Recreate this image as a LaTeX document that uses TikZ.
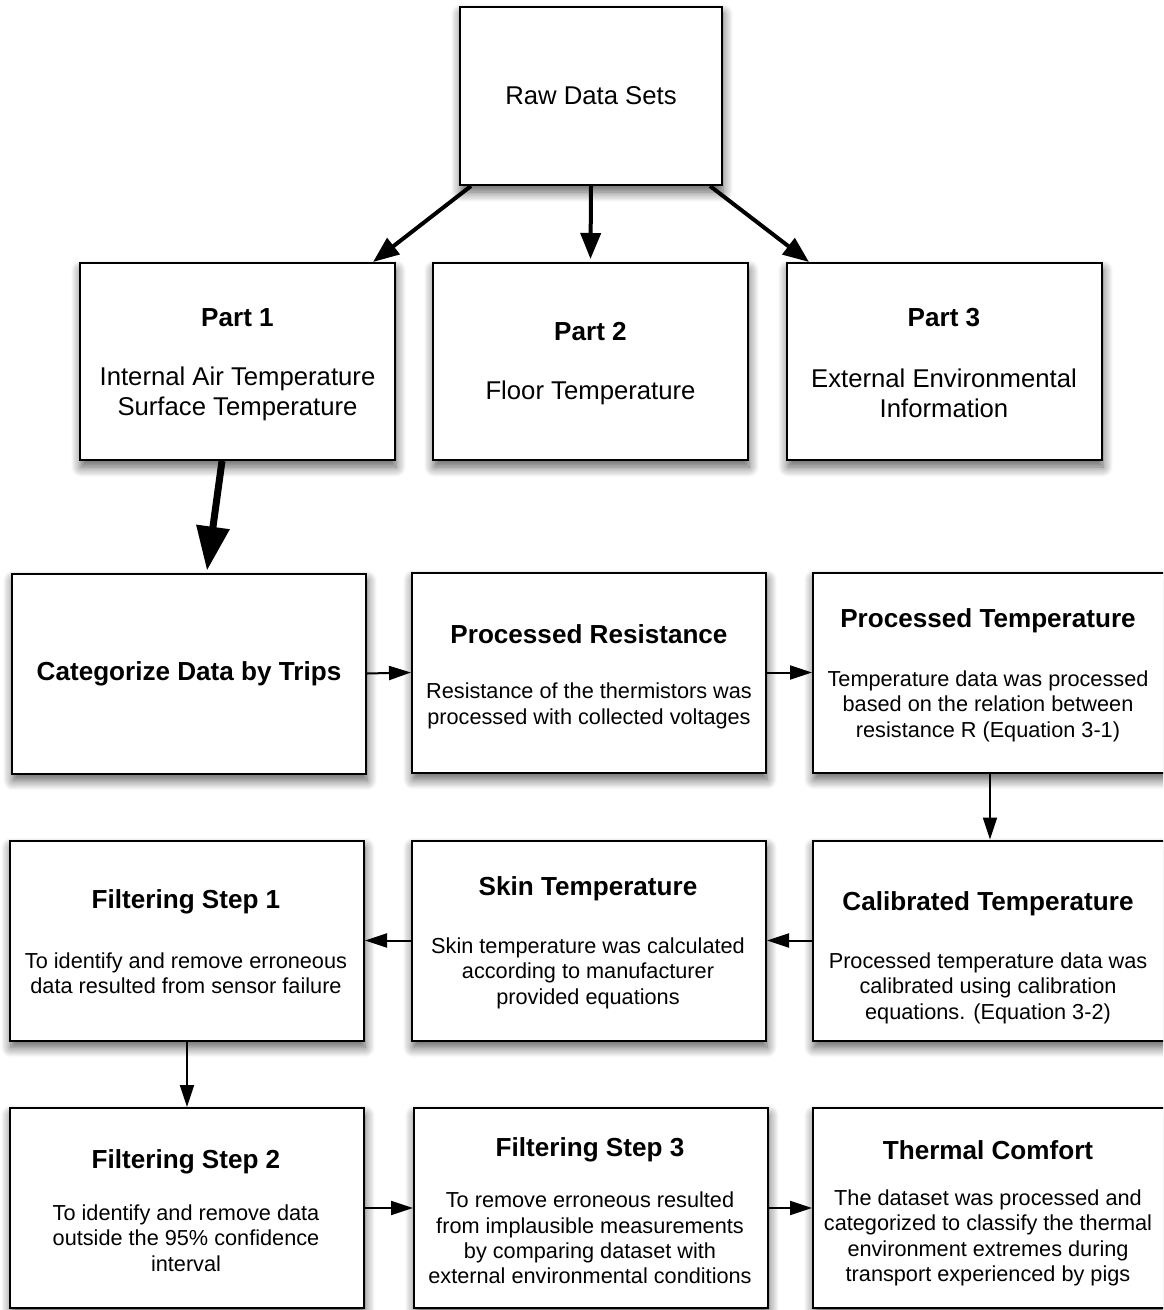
\documentclass[tikz,border=0pt]{standalone}
\usepackage{fontspec}
\setmainfont{Liberation Sans}
\usetikzlibrary{arrows.meta,shadows.blur}
\tikzset{
	box/.style={draw, line width=1pt, fill=white, inner sep=0pt,
		blur shadow={shadow xshift=0.5pt, shadow yshift=-3.5pt, shadow blur radius=5pt, shadow blur steps=10, shadow opacity=65}},
	ttl/.style={font=\fontsize{13.05}{15}\selectfont\bfseries, inner sep=0pt},
	big/.style={font=\fontsize{12.85}{15}\selectfont, align=center, inner sep=0pt},
	txt/.style={font=\fontsize{10.85}{12.7}\selectfont, align=center, inner sep=0pt},
	part/.style={box, minimum width=157.5pt, minimum height=98.5pt},
	stage/.style={box, minimum width=177pt, minimum height=100pt},
	fat arrow/.style={line width=2pt, -{Triangle[length=13pt,width=10pt]}},
	thin arrow/.style={line width=1pt, -{Triangle[length=11pt,width=7pt]}},
}
\begin{document}
\begin{tikzpicture}[x=0.5pt, y=-0.5pt, line join=miter]
	\useasboundingbox (0,0) rectangle (1163,1310);
	\clip (0,0) rectangle (1163,1310);
	
	% top
	\node[box, big, minimum width=131pt, minimum height=89pt] (raw) at (591,96) {Raw Data Sets};
	
	\node[part] (p1) at (237.5,361.5) {};
	\node[part] (p2) at (590.5,361.5) {};
	\node[part] (p3) at (944.5,361.5) {};
	\node[ttl] (p1-t) at (237.5,318) {Part 1};
	\node[big] (p1-b) at (237.5,394) {Internal Air Temperature\\Surface Temperature};
	\node[ttl] (p2-t) at (590.5,332) {Part 2};
	\node[big] (p2-b) at (590.5,393) {Floor Temperature};
	\node[ttl] (p3-t) at (944,318) {Part 3};
	\node[big] (p3-b) at (944,393) {External Environmental\\Information};
	
	% processing rows
	\node[stage, ttl, inner sep=0pt] (cat) at (189,673.5) {\raisebox{-1pt}{Categorize Data by Trips}};
	\node[stage] (pres) at (589,672.5) {};
	\node[stage] (ptemp) at (990,672.5) {};
	\node[stage] (filt1) at (187,940.5) {};
	\node[stage] (skin) at (589,940.5) {};
	\node[stage] (calib) at (990,940.5) {};
	\node[stage] (filt2) at (187,1208) {};
	\node[stage] (filt3) at (591,1208) {};
	\node[stage] (comfort) at (990,1208) {};
	
	\node[ttl] (pres-t) at (589,634) {Processed Resistance};
	\node[txt] (pres-b) at (589,706) {Resistance of the thermistors was\\processed with collected voltages};
	\node[ttl] (ptemp-t) at (988,621) {Processed Temperature};
	\node[txt] (ptemp-b) at (988,706) {Temperature data was processed\\based on the relation between\\resistance R (Equation 3-1)};
	\node[ttl] (filt1-t) at (186,902) {Filtering Step 1};
	\node[txt] (filt1-b) at (186,973) {To identify and remove erroneous\\data resulted from sensor failure};
	\node[ttl] (skin-t) at (588,889) {Skin Temperature};
	\node[txt] (skin-b) at (588,973) {Skin temperature was calculated\\according to manufacturer\\provided equations};
	\node[ttl] (calib-t) at (988,904) {Calibrated Temperature};
	\node[txt] (calib-b) at (988,988) {Processed temperature data was\\calibrated using calibration\\equations. (Equation 3-2)};
	\node[ttl] (filt2-t) at (186,1162) {Filtering Step 2};
	\node[txt] (filt2-b) at (186,1238) {To identify and remove data\\outside the 95\% confidence\\interval};
	\node[ttl] (filt3-t) at (590,1150) {Filtering Step 3};
	\node[txt] (filt3-b) at (590,1238) {To remove erroneous resulted\\from implausible measurements\\by comparing dataset with\\external environmental conditions};
	\node[ttl] (comfort-t) at (988,1150) {Thermal Comfort};
	\node[txt] (comfort-b) at (988,1238) {The dataset was processed and\\categorized to classify the thermal\\environment extremes during\\transport experienced by pigs};
	
	% arrows
	\draw[fat arrow] ([xshift=6pt]raw.south west) -- ([xshift=-11.5pt]p1.north east);
	\draw[fat arrow] (raw.south) -- ([yshift=1.5pt]p2.north);
	\draw[fat arrow] ([xshift=-6.5pt]raw.south east) -- ([xshift=11.5pt]p3.north west);
	\draw[line width=3.5pt, -{Triangle[length=22pt,width=16pt]}] ([xshift=-7.75pt]p1.south) -- ([xshift=9pt,yshift=1pt]cat.north);
	\foreach \a/\b in {cat.east/pres.west, pres.east/ptemp.west, ptemp.south/calib.north, calib.west/skin.east, skin.west/filt1.east, filt1.south/filt2.north, filt2.east/filt3.west, filt3.east/comfort.west}
		\draw[thin arrow] (\a) -- (\b);
\end{tikzpicture}
\end{document}
